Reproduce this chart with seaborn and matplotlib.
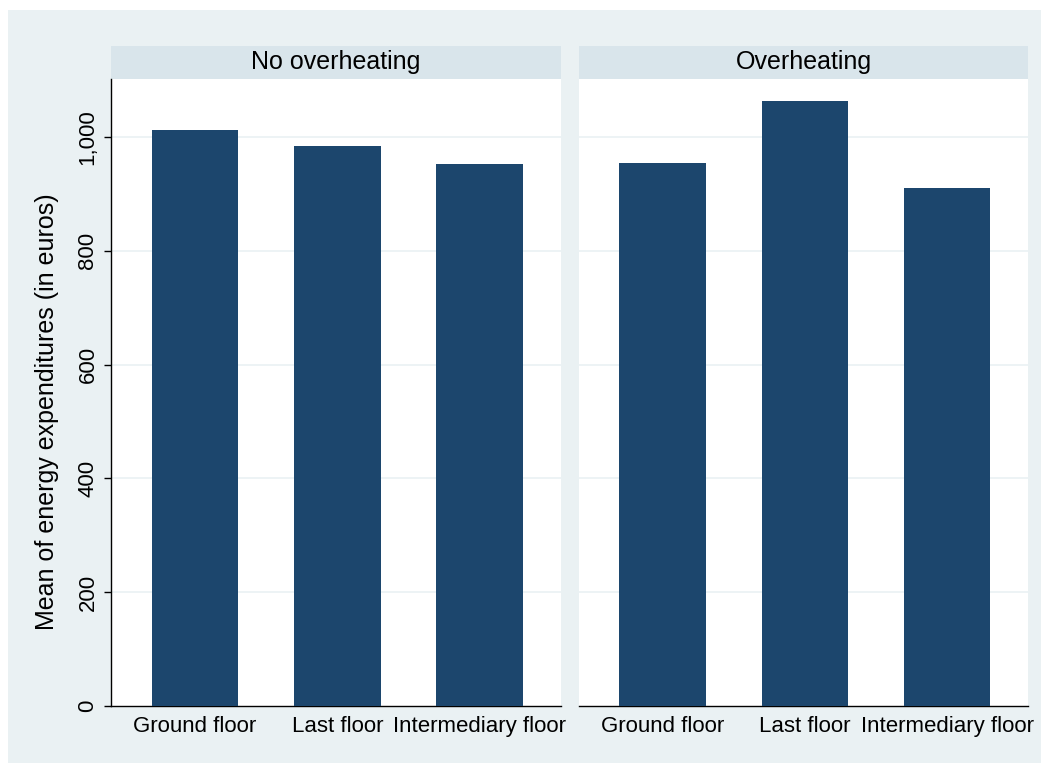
import numpy as np
import pandas as pd
import matplotlib
matplotlib.use("Agg")
import matplotlib.pyplot as plt
import seaborn as sns
from matplotlib.patches import Rectangle
from matplotlib.ticker import FuncFormatter

# data
floors = ["Ground floor", "Last floor", "Intermediary floor"]
panels = ["No overheating", "Overheating"]
no_overheat = [1012, 984, 953]
overheat = [954, 1064, 910]

BAR = "#1C466D"
BG = "#EAF1F3"
STRIP = "#D9E5EB"
GRID = "#EAF1F3"

sns.set_theme(style="white")
plt.rcParams["font.family"] = ["Liberation Sans", "DejaVu Sans"]

W, H = 1049, 771
fig = plt.figure(figsize=(W / 100, H / 100), dpi=100)
fig.patch.set_facecolor("white")

# outer graph region
fig.patches.append(Rectangle((8 / W, 1 - 763 / H), (1041 - 8) / W, (763 - 10) / H,
                             transform=fig.transFigure, facecolor=BG,
                             edgecolor="none", zorder=-10))

y0, y1 = 79, 706
lefts = [(111, 561), (579, 1028)]
ymax = (706 - 79) / 0.569

for i, (name, vals) in enumerate(zip(panels, [no_overheat, overheat])):
    xa, xb = lefts[i]
    ax = fig.add_axes([xa / W, 1 - y1 / H, (xb - xa) / W, (y1 - y0) / H])
    df = pd.DataFrame({"floor": floors, "value": vals})
    sns.barplot(data=df, x="floor", y="value", color=BAR, saturation=1,
                width=0.61, linewidth=0, ax=ax, zorder=3)
    ax.set_facecolor("white")
    ax.set_xlim(-0.59, 2.57)
    ax.set_ylim(0, ymax)
    ax.set_yticks([0, 200, 400, 600, 800, 1000])
    for t in [200, 400, 600, 800, 1000]:
        ax.axhline(t, color=GRID, lw=1.2, zorder=1)
    for s in ["top", "right"]:
        ax.spines[s].set_visible(False)
    ax.spines["bottom"].set_color("black")
    ax.spines["bottom"].set_linewidth(1.0)
    ax.set_xlabel("")
    ax.tick_params(axis="x", length=0, labelsize=16, pad=7, colors="black")
    if i == 0:
        ax.spines["left"].set_color("black")
        ax.spines["left"].set_linewidth(1.0)
        ax.tick_params(axis="y", length=5, width=1, direction="out", left=True,
                       labelsize=16, pad=4, colors="black")
        ax.yaxis.set_major_formatter(FuncFormatter(lambda v, p: f"{int(v):,}"))
        for lab in ax.get_yticklabels():
            lab.set_rotation(90)
            lab.set_va("center")
        ax.set_ylabel("Mean of energy expenditures (in euros)", fontsize=18,
                      color="black")
        ax.yaxis.set_label_coords(-0.115, 0.47)
    else:
        ax.spines["left"].set_visible(False)
        ax.set_yticks([0, 200, 400, 600, 800, 1000])
        ax.tick_params(axis="y", length=0, labelleft=False)
        ax.set_ylabel("")

    # strip header
    fig.patches.append(Rectangle((xa / W, 1 - y0 / H), (xb - xa) / W, (79 - 46) / H,
                                 transform=fig.transFigure, facecolor=STRIP,
                                 edgecolor="none", zorder=-5))
    fig.text((xa + xb) / 2 / W, 1 - 62 / H, name, ha="center", va="center",
             fontsize=18, color="black")

fig.savefig("out.png", dpi=100)
